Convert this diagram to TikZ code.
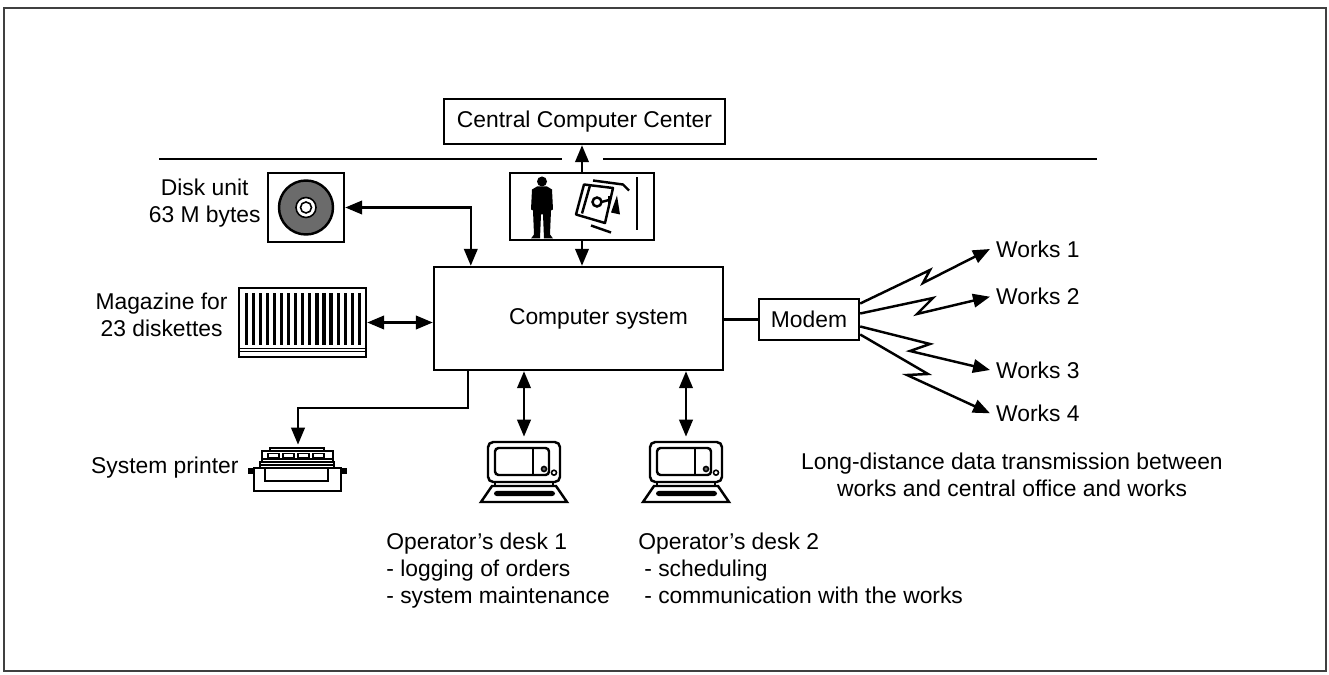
\documentclass[tikz,border=0pt]{standalone}
\usepackage{fontspec}
\setmainfont{Liberation Sans}
\usetikzlibrary{positioning, arrows.meta, calc}

\begin{document}
\begin{tikzpicture}[
  x=0.02cm, y=-0.02cm,
  font=\fontsize{13}{15.2}\selectfont,
  box/.style={draw, line width=1.4pt, inner sep=0pt, align=center},
  icon/.style={inner sep=0pt},
  lbl/.style={align=center},
  ink/.style={line width=1.4pt},
  thin/.style={line width=0.9pt},
  arr/.style={-{Triangle[length=0.34cm, width=0.27cm]}, line width=1.4pt},
  darr/.style={{Triangle[length=0.34cm, width=0.27cm]}-{Triangle[length=0.34cm, width=0.27cm]},
               line width=1.4pt},
]
\useasboundingbox (0,0) rectangle (1329,675);
\draw[line width=1.3pt, black!75] (4,8) rectangle (1326,671);

% Boxes
\node[box, minimum width=5.62cm, minimum height=0.9cm] (ccc) at (584.5,121.5) {Central Computer Center};
\node[box, minimum width=2.88cm, minimum height=1.34cm] (ops) at (582,206.5) {};
\node[box, minimum width=1.52cm, minimum height=1.38cm] (disk) at (306,207.5) {};
\node[box, minimum width=5.78cm, minimum height=2.06cm,
      label={[xshift=0.4cm]center:Computer system}] (cs) at (578.5,318.5) {};
\node[box, minimum width=2.54cm, minimum height=1.38cm] (mag) at (302.5,322.5) {};
\node[box, minimum width=2cm, minimum height=0.82cm] (modem) at (809,319.5) {Modem};

% Icon places (printer, terminals)
\node[icon, minimum width=1.92cm, minimum height=0.92cm] (prn) at (298,468) {};
\node[icon, minimum width=1.76cm, minimum height=1.32cm] (t1) at (524,470) {};
\node[icon, minimum width=1.76cm, minimum height=1.32cm] (t2) at (686,470) {};

% Bus line
\draw[ink] (159,159) -- (562,159);
\draw[ink] (603,159) -- (1097,159);

% Labels
\node[lbl, left=0pt of disk, yshift=0.09cm] (diskl) {Disk unit\\63 M bytes};
\node[lbl, left=0.08cm of mag, yshift=0.16cm] (magl) {Magazine for\\23 diskettes};
\node[left=0.1cm of prn] (prnl) {System printer};
\node[anchor=west] (w1) at (990,249) {Works 1};
\node[anchor=west] (w2) at (990,296.7) {Works 2};
\node[anchor=west] (w3) at (990,370) {Works 3};
\node[anchor=west] (w4) at (990,413.3) {Works 4};
\node[lbl] (ldt) at (1012,475) {Long-distance data transmission between\\works and central office and works};
\node[anchor=north west, inner sep=0pt, align=left] (od1) at (386,533)
  {Operator’s desk 1\\- logging of orders\\- system maintenance};
\node[anchor=north west, inner sep=0pt, align=left] (od2) at (638,533)
  {Operator’s desk 2\\\hspace{0.12cm}- scheduling\\\hspace{0.12cm}- communication with the works};

% Operator and equipment
\begin{scope}[shift={(ops.center)}]
  \fill (-40,-25) circle (5);
  \fill (-45,-20) -- (-35,-20) -- (-30,-17) -- (-29,3) -- (-31,4) -- (-32,28) -- (-29,32)
    -- (-38,32) -- (-39,8) -- (-41,8) -- (-42,32) -- (-51,32) -- (-48,28) -- (-49,4)
    -- (-51,3) -- (-50,-17) -- cycle;
  \draw[ink, line join=round] (2,-22) -- (31,-18.5) -- (23,16.5) -- (-6,8) -- cycle;
  \draw[ink] (8,-21) -- (0,7);
  \draw[ink] (15,-4.5) circle (4.5);
  \draw[ink] (19.5,-4.5) -- (27,-6.5);
  \draw[ink] (27,-10) -- (27,-2);
  \fill (29,6) -- (35,-11) -- (38,8) -- cycle;
  \draw[ink] (11,-26) -- (41,-22) -- (47,-16);
  \draw[ink] (55,-29) -- (55,24);
  \draw[ink] (9,19) -- (29,26);
\end{scope}

% Disk
\begin{scope}[shift={(disk.center)}]
  \filldraw[fill=black!58, ink] (0,0) circle (27);
  \filldraw[fill=white, thin] (0,0) circle (10);
  \draw[thin] (0,0) circle (5.5);
\end{scope}

% Diskette magazine
\begin{scope}[shift={(mag.center)}]
  \foreach \i in {0,...,16}
    \fill (-58+\i*7.08,-29.5) rectangle ++(3.2,52);
  \draw[thin] (-63.5,25.8) -- (63.5,25.8);
  \draw[thin] (-63.5,29.2) -- (63.5,29.2);
\end{scope}

% Printer
\begin{scope}[shift={(prn.center)}]
  \draw[ink] (-28,-20) rectangle (26,-17);
  \draw[ink] (-36,-17) rectangle (35,-6);
  \foreach \k in {0,...,3}
    \draw[thin] (-30+\k*15,-14.5) rectangle ++(11,4);
  \draw[thin] (-36,-9) -- (35,-9);
  \draw[ink] (-38,-6) rectangle (36,0);
  \draw[thin] (-38,-3) -- (36,-3);
  \fill (-50,0) rectangle (-44,6);
  \fill (43,0) rectangle (49,6);
  \draw[ink] (-44,0) rectangle (43,23);
  \draw[ink] (-33,0) rectangle (30,13);
\end{scope}

% Terminals
\foreach \t in {t1,t2} {
  \begin{scope}[shift={(\t.center)}]
    \draw[ink, rounded corners=3pt] (-36,-28) rectangle (36,12);
    \draw[ink, rounded corners=2pt] (-29,-22) rectangle (25,5);
    \draw[ink] (9,-22) -- (9,5);
    \filldraw[fill=black!60, thin] (20,-1) circle (2.5);
    \filldraw[fill=white, thin] (30,2.7) circle (2.5);
    \draw[thin] (-29,12) rectangle (29,16);
    \draw[ink] (-32,16) -- (32,16) -- (43,32) -- (-43,32) -- cycle;
    \fill[rounded corners=1.5pt] (-30,21) rectangle (31,26);
  \end{scope}
}

% Connectors
\draw[arr] (ops.north) -- (ops.north |- ccc.south);
\draw[arr] (ops.south) -- (ops.south |- cs.north);
\draw[darr] ([xshift=0.76cm]cs.north west) |- (disk.east);
\draw[darr] (mag.east) -- (mag.east -| cs.west);
\draw[ink] (modem.west -| cs.east) -- (modem.west);
\draw[arr] ([xshift=0.7cm]cs.south west) -- ++(0,37) -| (prn.north);
\draw[darr] (t1.north |- cs.south) -- (t1.north);
\draw[darr] (t2.north |- cs.south) -- (t2.north);

% Radio links
\draw[arr] ($(modem.east)+(0,-16)$) -- (930,270) -- (923,283) -- (w1.west);
\draw[arr] ($(modem.east)+(0,-6)$) -- (933,298) -- (917,314) -- (w2.west);
\draw[arr] ($(modem.east)+(0,7)$) -- (930,344) -- (910,351) -- (w3.west);
\draw[arr] ($(modem.east)+(0,15)$) -- (928,374) -- (907,375) -- (w4.west);

\end{tikzpicture}
\end{document}
